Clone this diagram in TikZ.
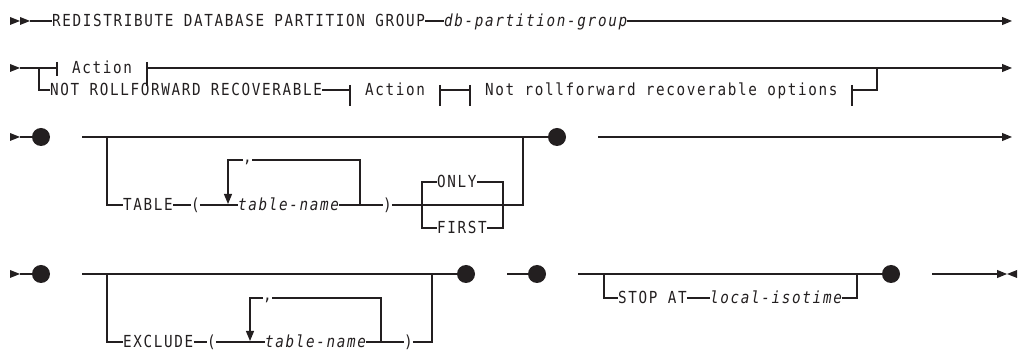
\documentclass[tikz,border=0pt]{standalone}
\usepackage{fontspec}
\setmonofont[FakeStretch=0.86,LetterSpace=10]{DejaVu Sans Mono}
\usetikzlibrary{arrows.meta}
\definecolor{ink}{RGB}{35,31,32}
\begin{document}
\begin{tikzpicture}[x=1pt,y=-1pt,
  rr/.style={line width=1.1pt, draw=ink},
  arr/.style={-{Triangle[length=10pt,width=8pt]}},
  txt/.style={inner sep=0pt, text height=12pt, text depth=0pt, anchor=west, font=\fontsize{16.6}{18}\ttfamily, text=ink},
  itx/.style={txt, font=\fontsize{16.6}{18}\ttfamily\itshape},
  bigdot/.style={circle, fill=ink, inner sep=0pt, minimum size=18pt},
]
\useasboundingbox (0,0) rectangle (1021,352);

% ---------- Row 1 ----------
\fill[ink] (10,17) -- (20,21) -- (10,25) -- cycle;
\fill[ink] (20,17) -- (30,21) -- (20,25) -- cycle;
\coordinate (s1) at (30,21);
\node[txt] (redis) at (52,21) {REDISTRIBUTE DATABASE PARTITION GROUP};
\node[itx] (dbpg) at (444,21) {db-partition-group};
\coordinate (e1) at (1012,21);
\draw[rr] (s1) -- (redis.west);
\draw[rr] (redis.east) -- (dbpg.west);
\draw[rr,arr] (dbpg.east) -- (e1);

% ---------- Row 2 ----------
\fill[ink] (10,64) -- (20,68) -- (10,72) -- cycle;
\coordinate (s2) at (20,68);
\coordinate (b2) at (39,68);
\coordinate (t2a) at (57,68);
\node[txt] (act1) at (72,68) {Action};
\coordinate (t2b) at (147,68);
\coordinate (j2) at (877,68);
\coordinate (e2) at (1012,68);
\draw[rr] (s2) -- (t2a);
\draw[rr] (57,62) -- (57,76);
\draw[rr] (147,62) -- (147,86);
\draw[rr,arr] (t2b) -- (e2);

\node[txt] (notrf) at (50,90) {NOT ROLLFORWARD RECOVERABLE};
\draw[rr] (b2) |- (notrf.west);
\coordinate (t2c) at (350,90);
\draw[rr] (notrf.east) -- (t2c);
\draw[rr] (350,85) -- (350,106);
\node[txt] (act2) at (365,90) {Action};
\coordinate (t2d) at (440,90);
\coordinate (t2e) at (470,90);
\draw[rr] (440,85) -- (440,106);
\draw[rr] (470,85) -- (470,106);
\draw[rr] (t2d) -- (t2e);
\node[txt] (nrro) at (485,90) {Not rollforward recoverable options};
\coordinate (t2f) at (852,90);
\draw[rr] (852,85) -- (852,106);
\draw[rr] (t2f) -| (j2);

% ---------- Row 3 ----------
\fill[ink] (10,133) -- (20,137) -- (10,141) -- cycle;
\coordinate (s3) at (20,137);
\node[bigdot] (d3a) at (41,137) {};
\draw[rr] (s3) -- (d3a);
\coordinate (l3) at (82,137);
\node[bigdot] (d3b) at (557,137) {};
\draw[rr] (l3) -- (d3b);
\coordinate (b3) at (107,137);
\node[txt] (table) at (123,205) {TABLE};
\draw[rr] (b3) |- (table.west);
\node[txt] (lp3) at (191,205) {(};
\draw[rr] (table.east) -- (lp3.west);
\node[itx] (tn3) at (238,205) {table-name};
\draw[rr] (lp3.east) -- (tn3.west);
\coordinate (la3) at (228,204);
\coordinate (lb3) at (360,205);
\coordinate (lt3) at (228,160);
\coordinate (rt3) at (360,160);
\node[txt] (cm3) at (243,157) {,};
\draw[rr] (lb3) -- (rt3) -- (cm3.east |- rt3);
\draw[rr,arr] (cm3.west |- lt3) -- (lt3) -- (la3);
\node[txt] (rp3) at (383,205) {)};
\draw[rr] (tn3.east) -- (rp3.west);
\coordinate (o1) at (422,205);
\coordinate (o2) at (503,205);
\node[txt] (only) at (437,182) {ONLY};
\node[txt] (first) at (437,228) {FIRST};
\draw[rr] (o1) |- (only.west);
\draw[rr] (o1) |- (first.west);
\draw[rr] (only.east) -| (o2);
\draw[rr] (first.east) -| (o2);
\coordinate (j3) at (523,137);
\draw[rr] (rp3.east) -| (j3);
\coordinate (s3b) at (598,137);
\coordinate (e3) at (1012,137);
\draw[rr,arr] (s3b) -- (e3);

% ---------- Row 4 ----------
\fill[ink] (10,270) -- (20,274) -- (10,278) -- cycle;
\coordinate (s4) at (20,274);
\node[bigdot] (d4a) at (41,274) {};
\draw[rr] (s4) -- (d4a);
\coordinate (l4) at (82,274);
\node[bigdot] (d4b) at (466,274) {};
\draw[rr] (l4) -- (d4b);
\coordinate (b4) at (107,274);
\node[txt] (excl) at (123,342) {EXCLUDE};
\draw[rr] (b4) |- (excl.west);
\node[txt] (lp4) at (207,342) {(};
\draw[rr] (excl.east) -- (lp4.west);
\node[itx] (tn4) at (265,342) {table-name};
\draw[rr] (lp4.east) -- (tn4.west);
\coordinate (la4) at (250,341);
\coordinate (lb4) at (381,342);
\coordinate (lt4) at (250,298);
\coordinate (rt4) at (381,298);
\node[txt] (cm4) at (263,295) {,};
\draw[rr] (lb4) -- (rt4) -- (cm4.east |- rt4);
\draw[rr,arr] (cm4.west |- lt4) -- (lt4) -- (la4);
\node[txt] (rp4) at (404,342) {)};
\draw[rr] (tn4.east) -- (rp4.west);
\coordinate (j4) at (432,274);
\draw[rr] (rp4.east) -| (j4);

\coordinate (s4b) at (507,274);
\node[bigdot] (d4c) at (537,274) {};
\draw[rr] (s4b) -- (d4c);
\coordinate (s4c) at (578,274);
\node[bigdot] (d4d) at (891,274) {};
\draw[rr] (s4c) -- (d4d);
\coordinate (b4b) at (604,274);
\node[txt] (stop) at (618,298) {STOP AT};
\node[itx] (lit) at (710,298) {local-isotime};
\draw[rr] (b4b) |- (stop.west);
\draw[rr] (stop.east) -- (lit.west);
\coordinate (j4b) at (857,274);
\draw[rr] (lit.east) -| (j4b);
\coordinate (s4d) at (932,274);
\coordinate (e4) at (1007,274);
\draw[rr,arr] (s4d) -- (e4);
\fill[ink] (1017,270) -- (1007,274) -- (1017,278) -- cycle;
\end{tikzpicture}
\end{document}
